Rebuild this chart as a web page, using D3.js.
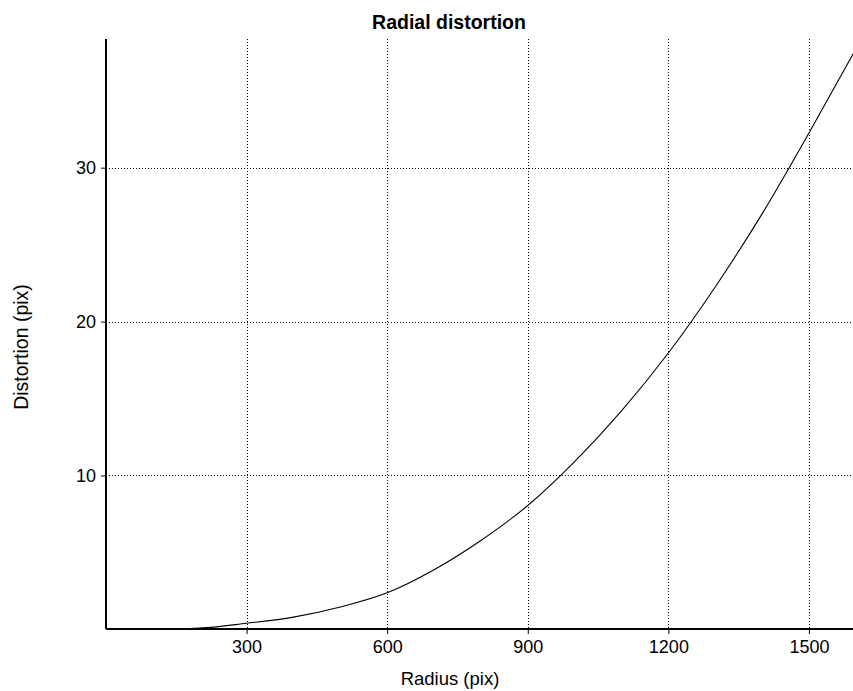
<!DOCTYPE html>
<html>
<head>
<meta charset="utf-8">
<script src="https://cdn.jsdelivr.net/npm/d3@7"></script>
<style>
  body { margin: 0; background: #fff; }
  text { font-family: Tahoma, "Liberation Sans", Arial, sans-serif; fill: #000; }
  .grid line { stroke: #000; stroke-dasharray: 1,2; shape-rendering: crispEdges; }
</style>
</head>
<body>
<div id="chart"></div>
<script>
// radius (pix) and distortion (pix)
const radius = [0, 100, 200, 300, 400, 500, 600, 700, 800, 900, 1000, 1100, 1200, 1300, 1400, 1500, 1600];
const distortion = [0, 0.01, 0.08, 0.4, 0.8, 1.46, 2.38, 3.88, 5.78, 8.05, 10.9, 14.2, 17.96, 22.25, 27.0, 32.25, 37.7];
const xTicks = [300, 600, 900, 1200, 1500];
const yTicks = [10, 20, 30];

const width = 853;
const height = 691;
const margin = {top: 39, right: 0, bottom: 62, left: 106};

const svg = d3.select('#chart').append('svg')
  .attr('width', width)
  .attr('height', height);

const xScale = d3.scaleLinear()
  .domain([0, 1594])
  .range([margin.left, width - margin.right]);

const yScale = d3.scaleLinear()
  .domain([0, 38.36])
  .range([height - margin.bottom + 0.4, margin.top]);

/* grid */
const grid = svg.append('g').attr('class', 'grid');
grid.selectAll('.gx')
  .data(xTicks).enter()
  .append('line')
  .attr('x1', d => Math.round(xScale(d)) + 0.5)
  .attr('x2', d => Math.round(xScale(d)) + 0.5)
  .attr('y1', margin.top)
  .attr('y2', height - margin.bottom);
grid.selectAll('.gy')
  .data(yTicks).enter()
  .append('line')
  .attr('y1', d => Math.round(yScale(d)) + 0.5)
  .attr('y2', d => Math.round(yScale(d)) + 0.5)
  .attr('x1', margin.left)
  .attr('x2', width);

/* curve */
const line = d3.line()
  .x((d, i) => xScale(radius[i]))
  .y(d => yScale(d))
  .curve(d3.curveMonotoneX);

svg.append('path')
  .datum(distortion)
  .attr('d', line)
  .attr('fill', 'none')
  .attr('stroke', '#000')
  .attr('stroke-width', 1.1);

/* axes */
const xAxis = d3.axisBottom(xScale).tickValues(xTicks).tickFormat(d3.format('d')).tickSize(5).tickPadding(6);
const yAxis = d3.axisLeft(yScale).tickValues(yTicks).tickFormat(d3.format('d')).tickSize(5).tickPadding(5);

const gx = svg.append('g')
  .attr('transform', `translate(0, ${height - margin.bottom})`)
  .call(xAxis);
const gy = svg.append('g')
  .attr('transform', `translate(${margin.left}, 0)`)
  .call(yAxis);

[gx, gy].forEach(g => {
  g.select('.domain').remove();
  g.attr('font-family', null).attr('font-size', null);
  g.selectAll('.tick line').attr('stroke', '#000');
  g.selectAll('.tick text').style('font-size', '18px').attr('fill', '#000');
});

svg.append('line')
  .attr('x1', margin.left).attr('x2', width)
  .attr('y1', height - margin.bottom).attr('y2', height - margin.bottom)
  .attr('stroke', '#000').attr('stroke-width', 2);
svg.append('line')
  .attr('x1', margin.left).attr('x2', margin.left)
  .attr('y1', margin.top).attr('y2', height - margin.bottom)
  .attr('stroke', '#000').attr('stroke-width', 2);

/* titles */
svg.append('text')
  .attr('x', 449).attr('y', 29)
  .attr('text-anchor', 'middle')
  .style('font-size', '19.5px')
  .style('font-weight', 'bold')
  .text('Radial distortion');

svg.append('text')
  .attr('x', 450).attr('y', 685)
  .attr('text-anchor', 'middle')
  .style('font-size', '18.5px')
  .text('Radius (pix)');

svg.append('text')
  .attr('transform', 'translate(28, 347) rotate(-90)')
  .attr('text-anchor', 'middle')
  .style('font-size', '19.5px')
  .text('Distortion (pix)');
</script>
</body>
</html>
